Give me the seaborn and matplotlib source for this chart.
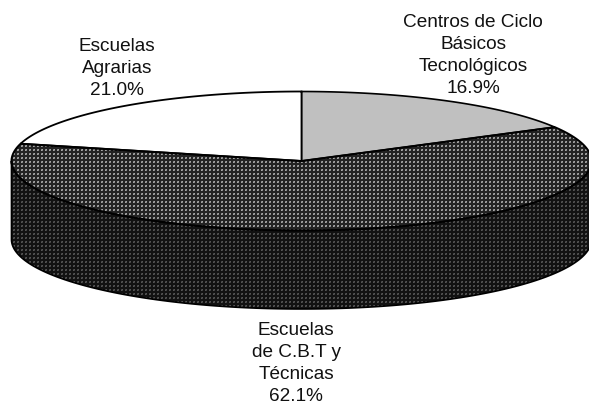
import numpy as np
import matplotlib
matplotlib.use("Agg")
import matplotlib.pyplot as plt
from matplotlib.patches import Polygon
import seaborn as sns

categories = ["Centros de Ciclo\nBásicos\nTecnológicos", "Escuelas\nde C.B.T y\nTécnicas", "Escuelas\nAgrarias"]
shares = [16.9, 62.1, 21.0]

sns.set_theme(style="white")
plt.rcParams["font.family"] = ["Liberation Sans", "DejaVu Sans"]

W, H = 589, 404
fig = plt.figure(figsize=(W / 100, H / 100), dpi=100, facecolor="white")
ax = fig.add_axes([0, 0, 1, 1])
ax.set_xlim(0, W)
ax.set_ylim(H, 0)
ax.axis("off")

cx, cy, rx, ry, depth = 301.5, 161.0, 290.0, 69.5, 78.5


def pt(frac):
    a = 2 * np.pi * np.asarray(frac)
    return cx + rx * np.sin(a), cy - ry * np.cos(a)


def arc(f0, f1):
    t = np.linspace(f0, f1, 400)
    x, y = pt(t)
    return np.column_stack([x, y])


def textured(poly, tile):
    """Paint a repeating dither tile, clipped to the polygon."""
    ny, nx = H // tile.shape[0] + 1, W // tile.shape[1] + 1
    img = np.tile(tile, (ny, nx))[:H, :W]
    im = ax.imshow(img, cmap="gray", vmin=0, vmax=255, interpolation="nearest",
                   extent=(0, W, H, 0), aspect="auto", zorder=2)
    im.set_clip_path(poly)


tile_top = np.array([[35, 35, 35, 35],
                     [35, 135, 165, 35],
                     [35, 165, 135, 35],
                     [35, 35, 35, 35]], dtype=float)
tile_side = np.array([[18, 18, 18, 18],
                      [18, 65, 85, 18],
                      [18, 85, 65, 18],
                      [18, 18, 18, 18]], dtype=float)

fr = np.cumsum([0] + shares) / 100.0

# side wall: front half of the rim, dropped by the depth
front = arc(0.25, 0.75)
wall = np.vstack([front, (front + [0, depth])[::-1]])
wall_p = Polygon(wall, closed=True, fc="none", ec="none")
ax.add_patch(wall_p)
textured(wall_p, tile_side)
ax.add_patch(Polygon(wall, closed=True, fc="none", ec="black", lw=1.2, zorder=3))

centre = np.array([[cx, cy]])
slices = [np.vstack([centre, arc(fr[i], fr[i + 1])]) for i in range(3)]

ax.add_patch(Polygon(slices[0], closed=True, fc="#c0c0c0", ec="black", lw=1.2, zorder=4))
ax.add_patch(Polygon(slices[2], closed=True, fc="white", ec="black", lw=1.3, zorder=4))
mid = Polygon(slices[1], closed=True, fc="none", ec="none")
ax.add_patch(mid)
textured(mid, tile_top)
ax.add_patch(Polygon(slices[1], closed=True, fc="none", ec="black", lw=1.4, zorder=5))

labels = [f"{c}\n{s:.1f}%" for c, s in zip(categories, shares)]
pos = [(473, 27), (296, 335), (117, 51)]
for lab, (x, y0) in zip(labels, pos):
    for i, line in enumerate(lab.split("\n")):
        ax.text(x, y0 + 22 * i, line, ha="center", va="baseline", fontsize=13.7,
                color="#111111", zorder=6)

fig.savefig("out.png", dpi=100, facecolor="white")
